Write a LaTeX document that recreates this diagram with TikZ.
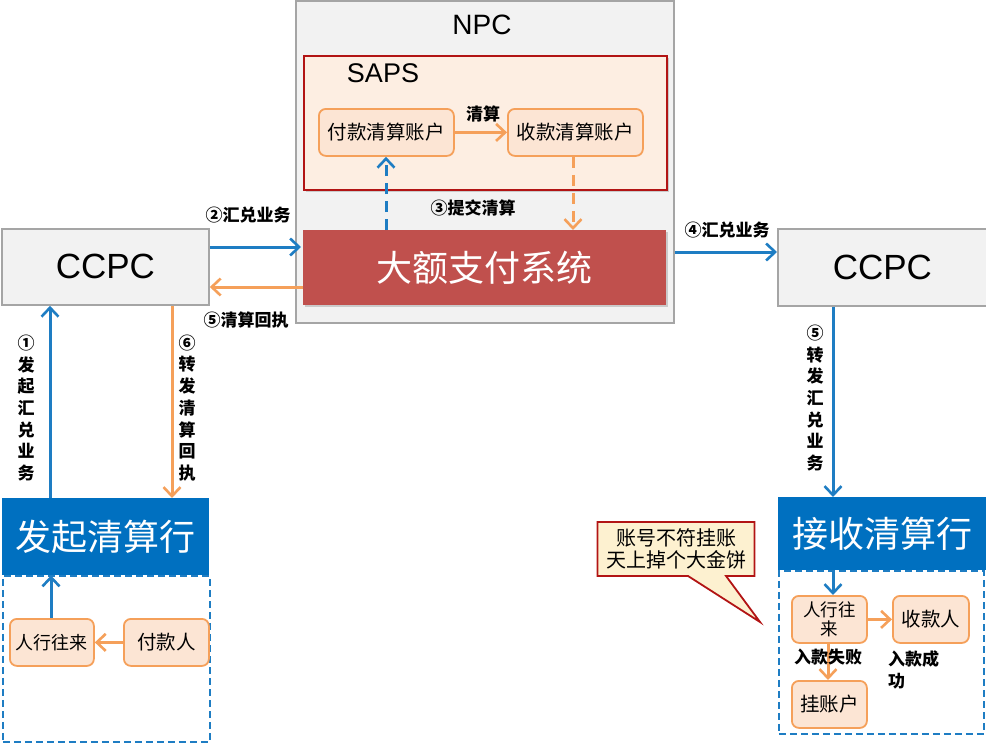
\documentclass[tikz,border=0pt]{standalone}
\usepackage{fontspec}
\setmainfont{Liberation Sans}
\newfontfamily\cjk{Noto Sans CJK SC}
\usetikzlibrary{arrows.meta,calc,shadows,shapes.callouts}
\definecolor{cblue}{RGB}{30,125,195}
\definecolor{cfill}{RGB}{0,112,192}
\definecolor{cor}{RGB}{245,160,90}
\definecolor{cpeach}{RGB}{252,229,212}
\definecolor{csaps}{RGB}{253,238,226}
\definecolor{cred}{RGB}{192,80,77}
\definecolor{cdred}{RGB}{178,20,20}
\definecolor{cgray}{RGB}{242,242,242}
\definecolor{cgrayb}{RGB}{165,165,165}
\definecolor{cyel}{RGB}{253,241,208}
\tikzset{
  box/.style={anchor=north west, inner sep=0pt},
  graybox/.style={box, fill=cgray, draw=cgrayb, line width=1.8pt},
  acct/.style={box, fill=cpeach, draw=cor, line width=1.8pt, rounded corners=7pt, font=\cjk\fontsize{19.5}{22}\selectfont},
  bankbox/.style={box, fill=cfill, text=white, font=\cjk\fontsize{36}{40}\selectfont},
  dashbox/.style={box, draw=cblue, line width=1.8pt, dash pattern=on 7pt off 4pt},
  tip/.style={-{Straight Barb[length=9pt,width=17pt,line width=2.6pt]}},
  barrow/.style={tip, draw=cblue, line width=3pt},
  oarrow/.style={tip, draw=cor, line width=3pt},
  lbl/.style={font=\cjk\bfseries\fontsize{17}{21.7}\selectfont, align=center, inner sep=0pt},
  ccpc/.style={graybox, font=\fontsize{35}{40}\selectfont},
  shad/.style={drop shadow={shadow xshift=2pt, shadow yshift=-2pt, opacity=0.35}}
}
\begin{document}
\begin{tikzpicture}[x=1pt,y=-1pt]
\useasboundingbox (0,0) rectangle (986,744);
% NPC
\node[graybox, minimum width=378pt, minimum height=322pt] (npc) at (295,0) {};
\node[font=\fontsize{28}{32}\selectfont] (npct) at (482,25) {NPC};
\node[box, fill=csaps, draw=cdred, line width=1.8pt, minimum width=363pt, minimum height=134pt, shad] (saps) at (303,55) {};
\node[font=\fontsize{27}{30}\selectfont] (sapst) at (383,73) {SAPS};
\node[acct, minimum width=135pt, minimum height=47pt] (pay) at (318,108) {付款清算账户};
\node[acct, minimum width=135pt, minimum height=47pt] (rcv) at (507,108) {收款清算账户};
\node[box, fill=cred, text=white, minimum width=363pt, minimum height=75pt, font=\cjk\fontsize{36}{40}\selectfont, shad] (dae) at (303,230) {大额支付系统};
% CCPC
\node[ccpc, minimum width=207pt, minimum height=76pt] (ccpcL) at (1,228) {CCPC};
\node[ccpc, minimum width=209pt, minimum height=77pt] (ccpcR) at (777,228) {CCPC};
% left bank
\node[bankbox, minimum width=207pt, minimum height=77pt] (fq) at (2,498) {发起清算行};
\node[dashbox, minimum width=207pt, minimum height=166pt] (fqd) at (2,575) {};
\node[acct, minimum width=84pt, minimum height=47pt, font=\cjk\fontsize{18}{21}\selectfont] (lren) at (9,618) {人行往来};
\node[acct, minimum width=85pt, minimum height=47pt] (fkr) at (123,618) {付款人};
% right bank
\node[bankbox, minimum width=209pt, minimum height=73pt] (js) at (778,497) {接收清算行};
\node[dashbox, minimum width=205pt, minimum height=163pt] (jsd) at (778,570) {};
\node[acct, minimum width=75pt, minimum height=47pt, align=center, font=\cjk\fontsize{17.5}{19}\selectfont] (rren) at (791,595) {人行往\\来};
\node[acct, minimum width=76pt, minimum height=47pt] (skr) at (892,595) {收款人};
\node[acct, minimum width=75pt, minimum height=47pt] (gzh) at (791,680) {挂账户};
% callout
\node[rectangle callout, callout absolute pointer={(760,622)}, callout pointer width=38pt, fill=cyel, draw=cdred, line width=1.8pt, minimum width=157pt, minimum height=54pt, inner sep=0pt, align=center, font=\cjk\fontsize{20}{21.5}\selectfont] (call) at (676,549) {账号不符挂账\\天上掉个大金饼};
% arrows
\draw[barrow] ($(fq.north west)+(48,0)$) -- ($(ccpcL.south west)+(49,0)$);
\draw[oarrow] ($(ccpcL.south west)+(171,0)$) -- ($(fq.north west)+(170,0)$);
\draw[barrow] ($(ccpcL.north east)+(0,19)$) -- ($(dae.north west)+(-2,17)$);
\draw[oarrow] ($(dae.north west)+(0,57)$) -- ($(ccpcL.north east)+(0,59)$);
\draw[barrow] ($(npc.north east)+(0,252)$) -- ($(ccpcR.north west)+(0,24)$);
\draw[barrow] ($(ccpcR.south west)+(56,0)$) -- ($(js.north west)+(55,0)$);
\draw[barrow, dash pattern=on 11pt off 7pt] ($(dae.north west)+(83,0)$) -- ($(pay.south west)+(68,0)$);
\draw[oarrow, dash pattern=on 11pt off 7pt] ($(rcv.south west)+(66,0)$) -- ($(dae.north west)+(270,0)$);
\draw[oarrow] (pay.east) -- (rcv.west);
\draw[barrow] ($(lren.north west)+(42,0)$) -- ($(fq.south west)+(49,0)$);
\draw[oarrow] (fkr.west) -- (lren.east);
\draw[barrow] ($(js.south west)+(55,0)$) -- ($(rren.north west)+(42,0)$);
\draw[oarrow] (rren.east) -- (skr.west);
\draw[oarrow] ($(rren.south west)+(37,0)$) -- ($(gzh.north west)+(37,0)$);
% labels
\node[lbl] (l2) at (248,215) {②汇兑业务};
\node[lbl] (l5a) at (246,320) {⑤清算回执};
\node[lbl] (l3) at (473,208) {③提交清算};
\node[lbl] (l4) at (727,230) {④汇兑业务};
\node[lbl] (lqs) at (483,114) {清算};
\node[lbl] (l1) at (26,408) {①\\发\\起\\汇\\兑\\业\\务};
\node[lbl] (l6) at (187,408) {⑥\\转\\发\\清\\算\\回\\执};
\node[lbl] (l5b) at (815,398) {⑤\\转\\发\\汇\\兑\\业\\务};
\node[lbl] (lsb) at (828,657) {入款失败};
\node[lbl, align=left, anchor=west] (lcg) at (888,670) {入款成\\功};
\end{tikzpicture}
\end{document}
